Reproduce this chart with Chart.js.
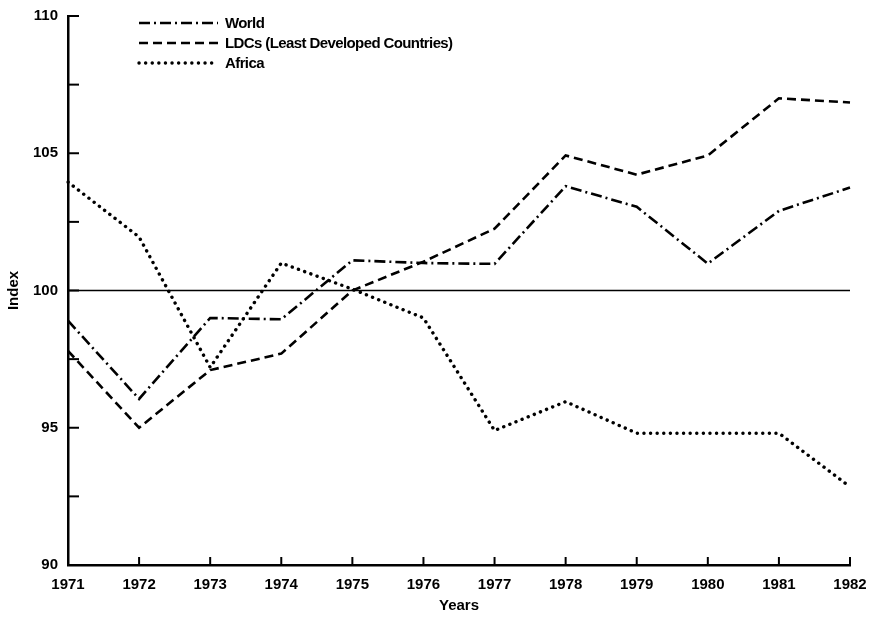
<!DOCTYPE html>
<html>
<head>
<meta charset="utf-8">
<script src="https://cdn.jsdelivr.net/npm/chart.js@4.4.0/dist/chart.umd.min.js"></script>
<style>
  html, body { margin: 0; padding: 0; background: #fff; }
  #wrap { width: 872px; height: 620px; position: relative; }
</style>
</head>
<body>
<div id="wrap"><canvas id="indexChart" width="872" height="620"></canvas></div>
<script>
// ------------------------------------
// Data
// ------------------------------------
const years = ['1971', '1972', '1973', '1974', '1975', '1976', '1977', '1978', '1979', '1980', '1981', '1982'];
const worldValues = [98.9, 96.05, 99.0, 98.95, 101.1, 101.0, 100.97, 103.8, 103.05, 100.98, 102.9, 103.75];
const ldcValues = [97.8, 95.0, 97.1, 97.7, 100.0, 101.05, 102.25, 104.92, 104.22, 104.92, 107.0, 106.85];
const africaValues = [103.95, 101.95, 97.2, 101.0, 100.05, 99.0, 94.9, 95.95, 94.8, 94.8, 94.8, 92.85];
const seriesNames = ['World', 'LDCs (Least Developed Countries)', 'Africa'];
const baseLine = 100;

const FONT = 'Liberation Sans, Arial, Helvetica, sans-serif';

// ------------------------------------
// Plugins: inward ticks, 100 line, legend
// ------------------------------------
const decorPlugin = {
    id: 'decor',
    afterDatasetsDraw(chart) {
        const ctx = chart.ctx;
        const xs = chart.scales.x;
        const ys = chart.scales.y;
        const area = chart.chartArea;
        ctx.save();
        ctx.strokeStyle = '#000';
        ctx.setLineDash([]);

        // reference line at 100
        ctx.lineWidth = 1.5;
        const yb = ys.getPixelForValue(baseLine);
        ctx.beginPath();
        ctx.moveTo(area.left, yb);
        ctx.lineTo(area.right, yb);
        ctx.stroke();

        // y ticks pointing inward
        ctx.lineWidth = 2;
        ys.ticks.forEach(t => {
            const py = ys.getPixelForValue(t.value);
            ctx.beginPath();
            ctx.moveTo(area.left, py);
            ctx.lineTo(area.left + 11, py);
            ctx.stroke();
        });

        // x ticks pointing upward
        years.forEach((y, i) => {
            if (i === 0) return;
            const px = xs.getPixelForValue(i);
            ctx.beginPath();
            ctx.moveTo(px, area.bottom);
            ctx.lineTo(px, area.bottom - 8);
            ctx.stroke();
        });

        // legend
        const lx0 = 139, lx1 = 218, ly = [23, 43, 63];
        ctx.font = 'bold 15px ' + FONT;
        if ('letterSpacing' in ctx) ctx.letterSpacing = '-0.6px';
        ctx.fillStyle = '#000';
        ctx.textBaseline = 'middle';
        chart.data.datasets.forEach((ds, i) => {
            ctx.setLineDash(ds.borderDash || []);
            ctx.lineWidth = ds.borderWidth;
            ctx.lineCap = ds.borderCapStyle || 'butt';
            ctx.beginPath();
            ctx.moveTo(lx0, ly[i]);
            ctx.lineTo(lx1, ly[i]);
            ctx.stroke();
            ctx.fillText(ds.label, lx1 + 7, ly[i] + 1);
        });
        ctx.restore();
    }
};

// ------------------------------------
// Chart
// ------------------------------------
function initChart() {
    const ctx = document.getElementById('indexChart').getContext('2d');
    new Chart(ctx, {
        type: 'line',
        data: {
            labels: years,
            datasets: [
                {
                    label: seriesNames[0],
                    data: worldValues,
                    borderColor: '#000',
                    borderWidth: 2.6,
                    borderDash: [11, 4, 2, 4],
                    pointRadius: 0,
                    tension: 0
                },
                {
                    label: seriesNames[1],
                    data: ldcValues,
                    borderColor: '#000',
                    borderWidth: 2.6,
                    borderDash: [9, 5],
                    pointRadius: 0,
                    tension: 0
                },
                {
                    label: seriesNames[2],
                    data: africaValues,
                    borderColor: '#000',
                    borderWidth: 3.4,
                    borderDash: [0.1, 6.5],
                    borderCapStyle: 'round',
                    pointRadius: 0,
                    tension: 0
                }
            ]
        },
        options: {
            responsive: false,
            animation: false,
            layout: { padding: { left: 0, right: 22, top: 16, bottom: 0 } },
            plugins: {
                legend: { display: false },
                tooltip: { enabled: false },
                title: { display: false }
            },
            scales: {
                x: {
                    type: 'category',
                    offset: false,
                    grid: { display: false },
                    border: { display: true, color: '#000', width: 2.5 },
                    ticks: {
                        color: '#000',
                        font: { family: FONT, size: 15, weight: 'bold' },
                        padding: 3,
                        maxRotation: 0,
                        autoSkip: false
                    },
                    title: {
                        display: true,
                        text: 'Years',
                        color: '#000',
                        font: { family: FONT, size: 15, weight: 'bold' },
                        padding: { top: 0, bottom: 5 }
                    },
                    afterFit(scale) { scale.height = 55; }
                },
                y: {
                    min: 90,
                    max: 110,
                    grid: { display: false },
                    border: { display: true, color: '#000', width: 2.5 },
                    ticks: {
                        stepSize: 2.5,
                        color: '#000',
                        font: { family: FONT, size: 15, weight: 'bold' },
                        padding: 2,
                        callback: v => (v % 5 === 0 ? v : '')
                    },
                    title: {
                        display: true,
                        text: 'Index',
                        color: '#000',
                        font: { family: FONT, size: 15, weight: 'bold' },
                        padding: { top: 5, bottom: 0 }
                    },
                    afterFit(scale) { scale.width = 68; }
                }
            }
        },
        plugins: [decorPlugin]
    });
}

window.onload = function() {
    initChart();
};
</script>
</body>
</html>
